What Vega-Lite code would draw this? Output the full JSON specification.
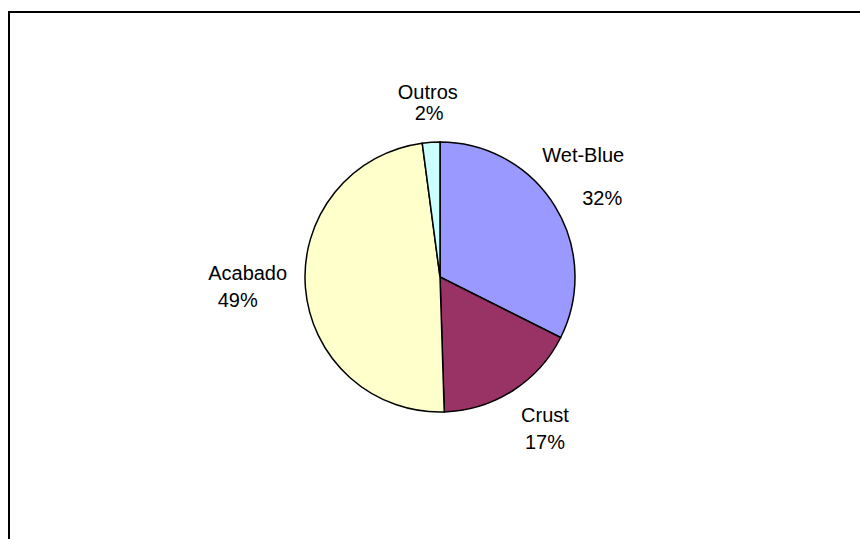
{
  "$schema": "https://vega.github.io/schema/vega-lite/v6.json",
  "autosize": "none",
  "padding": {"left": 9, "top": 12, "right": 0, "bottom": 0},
  "width": 862,
  "height": 530,
  "background": "white",
  "view": {"stroke": "black", "strokeWidth": 2, "fill": "white"},
  "data": {"values": [
    {"cat": "Wet-Blue", "value": 32.4, "pct": "32%", "ord": 1},
    {"cat": "Crust", "value": 17.1, "pct": "17%", "ord": 2},
    {"cat": "Acabado", "value": 48.4, "pct": "49%", "ord": 3},
    {"cat": "Outros", "value": 2.1, "pct": "2%", "ord": 4}
  ]},
  "encoding": {
    "theta": {"field": "value", "type": "quantitative", "stack": true},
    "order": {"field": "ord", "type": "quantitative"}
  },
  "layer": [
    {
      "mark": {"type": "arc", "outerRadius": 135, "stroke": "black", "strokeWidth": 1.5},
      "encoding": {
        "color": {"field": "cat", "type": "nominal", "legend": null,
          "scale": {"domain": ["Wet-Blue", "Crust", "Acabado", "Outros"], "range": ["#9999FF", "#993366", "#FFFFCC", "#CCFFFF"]}}
      }
    },
    {
      "mark": {"type": "text", "radius": 185, "fontSize": 20, "font": "Liberation Sans", "color": "black", "dy": 1},
      "encoding": {"text": {"condition": {"test": "datum.cat === 'Outros'", "field": "cat"}, "value": ""}}
    },
    {
      "mark": {"type": "text", "radius": 164, "fontSize": 20, "font": "Liberation Sans", "color": "black", "dy": 1},
      "encoding": {"text": {"condition": {"test": "datum.cat === 'Outros'", "field": "pct"}, "value": ""}}
    },
    {
      "mark": {"type": "text", "radius": 180, "fontSize": 20, "font": "Liberation Sans", "color": "black", "dx": -10, "dy": -26},
      "encoding": {"text": {"condition": {"test": "datum.cat === 'Wet-Blue'", "field": "cat"}, "value": ""}}
    },
    {
      "mark": {"type": "text", "radius": 180, "fontSize": 20, "font": "Liberation Sans", "color": "black", "dx": 9, "dy": 17},
      "encoding": {"text": {"condition": {"test": "datum.cat === 'Wet-Blue'", "field": "pct"}, "value": ""}}
    },
    {
      "mark": {"type": "text", "radius": 180, "fontSize": 20, "font": "Liberation Sans", "color": "black", "dx": 8, "dy": -13},
      "encoding": {"text": {"condition": {"test": "datum.cat === 'Crust'", "field": "cat"}, "value": ""}}
    },
    {
      "mark": {"type": "text", "radius": 180, "fontSize": 20, "font": "Liberation Sans", "color": "black", "dx": 8, "dy": 14},
      "encoding": {"text": {"condition": {"test": "datum.cat === 'Crust'", "field": "pct"}, "value": ""}}
    },
    {
      "mark": {"type": "text", "radius": 195, "fontSize": 20, "font": "Liberation Sans", "color": "black", "dx": 2, "dy": -19},
      "encoding": {"text": {"condition": {"test": "datum.cat === 'Acabado'", "field": "cat"}, "value": ""}}
    },
    {
      "mark": {"type": "text", "radius": 195, "fontSize": 20, "font": "Liberation Sans", "color": "black", "dx": -8, "dy": 8},
      "encoding": {"text": {"condition": {"test": "datum.cat === 'Acabado'", "field": "pct"}, "value": ""}}
    }
  ]
}
